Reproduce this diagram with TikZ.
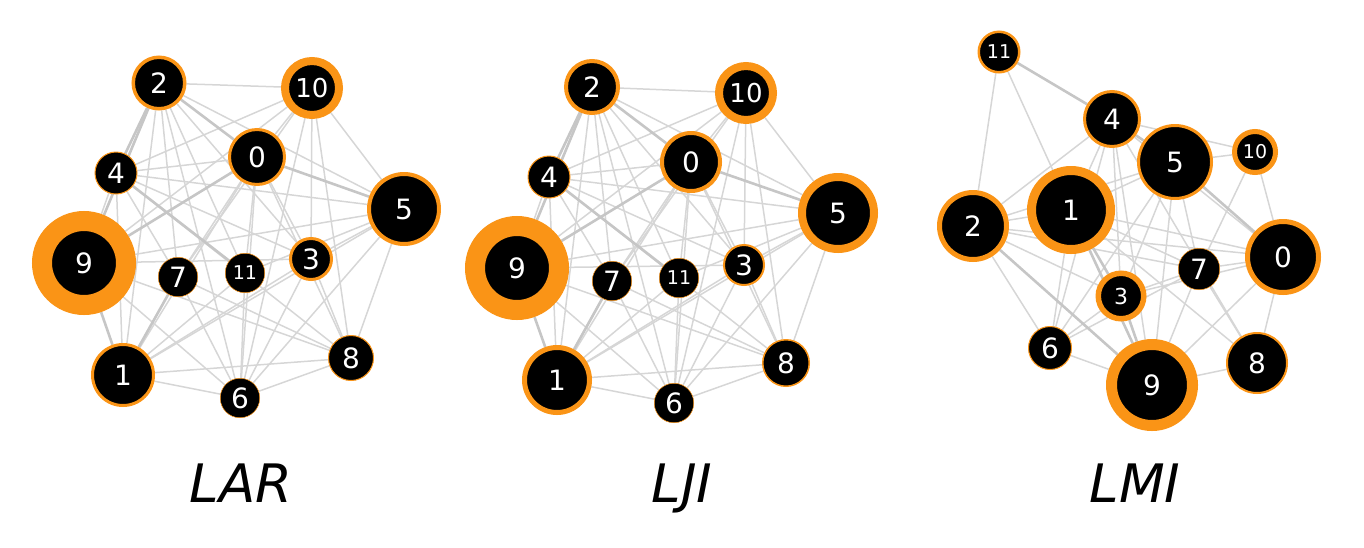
\documentclass[tikz,border=0pt]{standalone}
\usepackage{fontspec}
\setmainfont{DejaVu Sans}
\usetikzlibrary{backgrounds}
\definecolor{orng}{RGB}{250,148,22}
\definecolor{edgec}{RGB}{214,214,214}
\definecolor{edgect}{RGB}{198,198,198}
\tikzset{
  gn/.style 2 args={circle, fill=black, draw=orng, inner sep=0pt, text=white,
    minimum size={(#1+#2)*1pt}, line width={(#1-#2)*1pt},
    font=\fontsize{28}{28}\selectfont},
  sm/.style={font=\fontsize{19}{19}\selectfont},
  md/.style={font=\fontsize{22}{22}\selectfont},
  lg/.style={font=\fontsize{26}{26}\selectfont},
  ed/.style={draw=edgec, line width=1.5pt},
  edt/.style={draw=edgect, line width=2.6pt},
  ttl/.style={font=\fontsize{53}{53}\selectfont\itshape, anchor=base, text=black}
}
\begin{document}
\begin{tikzpicture}[x=1pt,y=-1pt]
\useasboundingbox (0,0) rectangle (1364,547);
% ---------- panel LAR ----------
\node[gn={29}{26}] (a0) at (257,157) {0};
\node[gn={32}{29}] (a1) at (123,375) {1};
\node[gn={27.5}{24}] (a2) at (159,83) {2};
\node[gn={22}{19}] (a3) at (311,259) {3};
\node[gn={21.5}{20.5}] (a4) at (116,173) {4};
\node[gn={37}{33}] (a5) at (404,209) {5};
\node[gn={20}{19.5}] (a6) at (240,398) {6};
\node[gn={20}{19.5}] (a7) at (178,277) {7};
\node[gn={23}{22}] (a8) at (351,358) {8};
\node[gn={52}{32}] (a9) at (84,263) {9};
\node[gn={31}{23},lg] (a10) at (312,88) {10};
\node[gn={20}{19.5},sm] (a11) at (245,273) {11};
% ---------- panel LJI ----------
\node[gn={31}{27}] (b0) at (691,162) {0};
\node[gn={35}{30}] (b1) at (557,380) {1};
\node[gn={28}{24}] (b2) at (592,87) {2};
\node[gn={21}{19}] (b3) at (744,265) {3};
\node[gn={21.5}{20.5}] (b4) at (549,177) {4};
\node[gn={40}{32}] (b5) at (838,213) {5};
\node[gn={20}{19.5}] (b6) at (674,403) {6};
\node[gn={20}{19.5}] (b7) at (612,281) {7};
\node[gn={24}{22.5}] (b8) at (786,363) {8};
\node[gn={52}{32}] (b9) at (517,268) {9};
\node[gn={31}{23},lg] (b10) at (746,93) {10};
\node[gn={20}{19.5},sm] (b11) at (679,278) {11};
% ---------- panel LMI ----------
\node[gn={38}{33}] (c0) at (1283,257) {0};
\node[gn={44}{35}] (c1) at (1071,210) {1};
\node[gn={36}{31}] (c2) at (973,226) {2};
\node[gn={25.5}{20},md] (c3) at (1121,296) {3};
\node[gn={29}{26}] (c4) at (1112,119) {4};
\node[gn={38}{35}] (c5) at (1175,162) {5};
\node[gn={22}{21}] (c6) at (1050,348) {6};
\node[gn={21}{20.5}] (c7) at (1199,269) {7};
\node[gn={31}{29}] (c8) at (1257,363) {8};
\node[gn={46}{35}] (c9) at (1152,385) {9};
\node[gn={23}{18},sm] (c10) at (1255,152) {10};
\node[gn={21.5}{19},sm] (c11) at (999,52) {11};
% ---------- titles ----------
\node[ttl] (tA) at (241,502) {LAR};
\node[ttl] (tB) at (682,502) {LJI};
\node[ttl] (tC) at (1135,502) {LMI};
% ---------- edges (behind nodes) ----------
\begin{pgfonlayer}{background}
\foreach \p in {a,b}{
  \foreach \u/\v in {2/10,2/1,2/7,2/11,2/6,2/3,2/5,
      10/4,10/9,10/0,10/5,10/3,10/8,10/6,10/7,
      0/4,0/7,0/11,0/3,0/8,0/6,0/1,
      4/9,4/1,4/5,4/3,4/7,4/8,
      5/9,5/3,5/1,5/8,5/6,5/11,
      9/3,9/8,9/6,
      7/6,7/8,
      11/6,11/1,
      3/1,3/8,3/6,
      1/8,1/6,6/8}
    \draw[ed] (\p\u) -- (\p\v);
  \foreach \u/\v in {2/4,2/9,2/0,0/5,0/9,9/1,4/11,1/7}
    \draw[edt] (\p\u) -- (\p\v);
}
\foreach \u/\v in {11/2,11/1,4/2,4/1,4/3,4/6,4/9,4/10,4/0,4/8,
    5/10,5/1,5/2,5/7,5/3,5/6,5/9,10/7,10/0,
    1/2,1/0,1/6,1/8,1/7,2/3,2/6,2/0,2/7,
    0/7,0/3,0/9,0/8,7/3,7/9,7/8,7/6,3/6,6/9,9/8}
  \draw[ed] (c\u) -- (c\v);
\foreach \u/\v in {11/4,4/5,5/0,1/3,1/9,2/9,3/9}
  \draw[edt] (c\u) -- (c\v);
\end{pgfonlayer}
\end{tikzpicture}
\end{document}
